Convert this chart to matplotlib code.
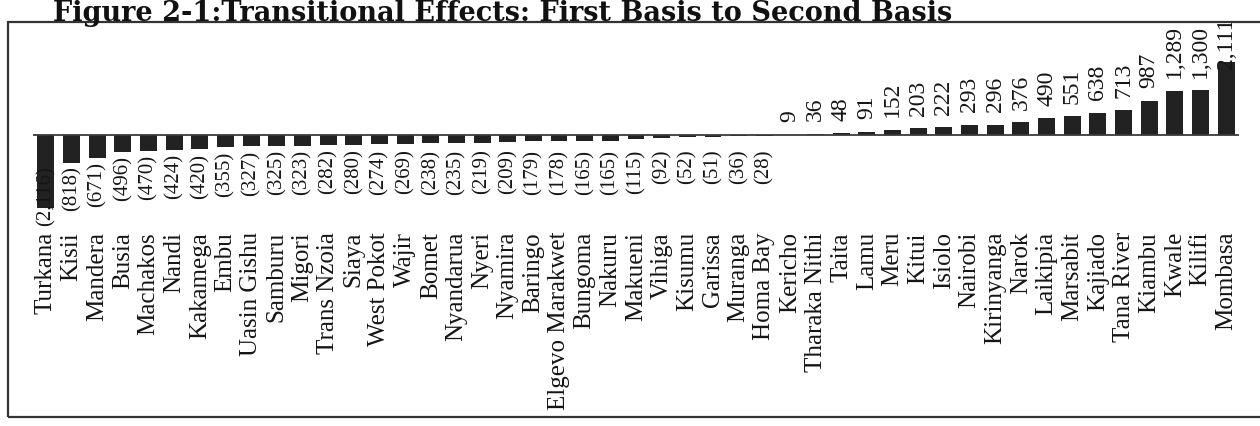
import matplotlib
matplotlib.use("Agg")
import matplotlib.pyplot as plt
from matplotlib.patches import Rectangle

# county change, first basis -> second basis
counties = ["Turkana", "Kisii", "Mandera", "Busia", "Machakos", "Nandi", "Kakamega",
            "Embu", "Uasin Gishu", "Samburu", "Migori", "Trans Nzoia", "Siaya",
            "West Pokot", "Wajir", "Bomet", "Nyandarua", "Nyeri", "Nyamira", "Baringo",
            "Elgevo Marakwet", "Bungoma", "Nakuru", "Makueni", "Vihiga", "Kisumu",
            "Garissa", "Muranga", "Homa Bay", "Kericho", "Tharaka Nithi", "Taita",
            "Lamu", "Meru", "Kitui", "Isiolo", "Nairobi", "Kirinyanga", "Narok",
            "Laikipia", "Marsabit", "Kajiado", "Tana River", "Kiambu", "Kwale",
            "Kilifi", "Mombasa"]
changes = [-2116, -818, -671, -496, -470, -424, -420, -355, -327, -325, -323, -282,
           -280, -274, -269, -238, -235, -219, -209, -179, -178, -165, -165, -115,
           -92, -52, -51, -36, -28, 9, 36, 48, 91, 152, 203, 222, 293, 296, 376,
           490, 551, 638, 713, 987, 1289, 1300, 2111]

title = "Figure 2-1:Transitional Effects: First Basis to Second Basis"

W, H = 1260, 426
fig = plt.figure(figsize=(W / 100, H / 100), dpi=100)
fig.patch.set_facecolor("white")

ax = fig.add_axes([33 / W, (H - 232) / H, 1206 / W, 210 / H])
x = list(range(len(counties)))
ax.bar(x, changes, width=0.66, color="#222222", zorder=2)
ax.axhline(0, color="#3a3a3a", lw=1.3, zorder=3)
ax.set_xlim(-0.5, len(counties) - 0.5)
ax.set_ylim(-2813, 3277)
ax.set_yticks([])
ax.set_xticks(x)
ax.set_xticklabels(counties, rotation=90, va="top", ha="center",
                   fontfamily="Liberation Serif", fontsize=18, color="#151515")
ax.tick_params(axis="x", length=0, pad=0)
for s in ax.spines.values():
    s.set_visible(False)
ax.patch.set_alpha(0)

# value labels
for i, v in enumerate(changes):
    if v < 0:
        txt = "({:,})".format(-v)
        anchor = max(min(v, -300), -780)
        ax.annotate(txt, (i, anchor), xytext=(0, -3), textcoords="offset points",
                    rotation=90, ha="center", va="top", fontsize=15,
                    fontfamily="Liberation Serif", color="#151515", zorder=4)
    else:
        txt = "{:,}".format(v)
        anchor = min(v, 1550)
        ax.annotate(txt, (i, anchor), xytext=(0, 9), textcoords="offset points",
                    rotation=90, ha="center", va="bottom", fontsize=17,
                    fontfamily="Liberation Serif", color="#151515", zorder=4)

# chart-area border (runs off the right edge like the scan)
fig.patches.append(Rectangle((8 / W, (H - 417) / H), 1.05, 395 / H,
                             transform=fig.transFigure, fill=False,
                             edgecolor="#333333", lw=1.6))

fig.text(53 / W, (H - 21) / H, title, ha="left", va="baseline",
         fontfamily="DejaVu Serif", fontweight="bold", fontsize=19.5, color="#111111")

fig.savefig("out.png", dpi=100)
